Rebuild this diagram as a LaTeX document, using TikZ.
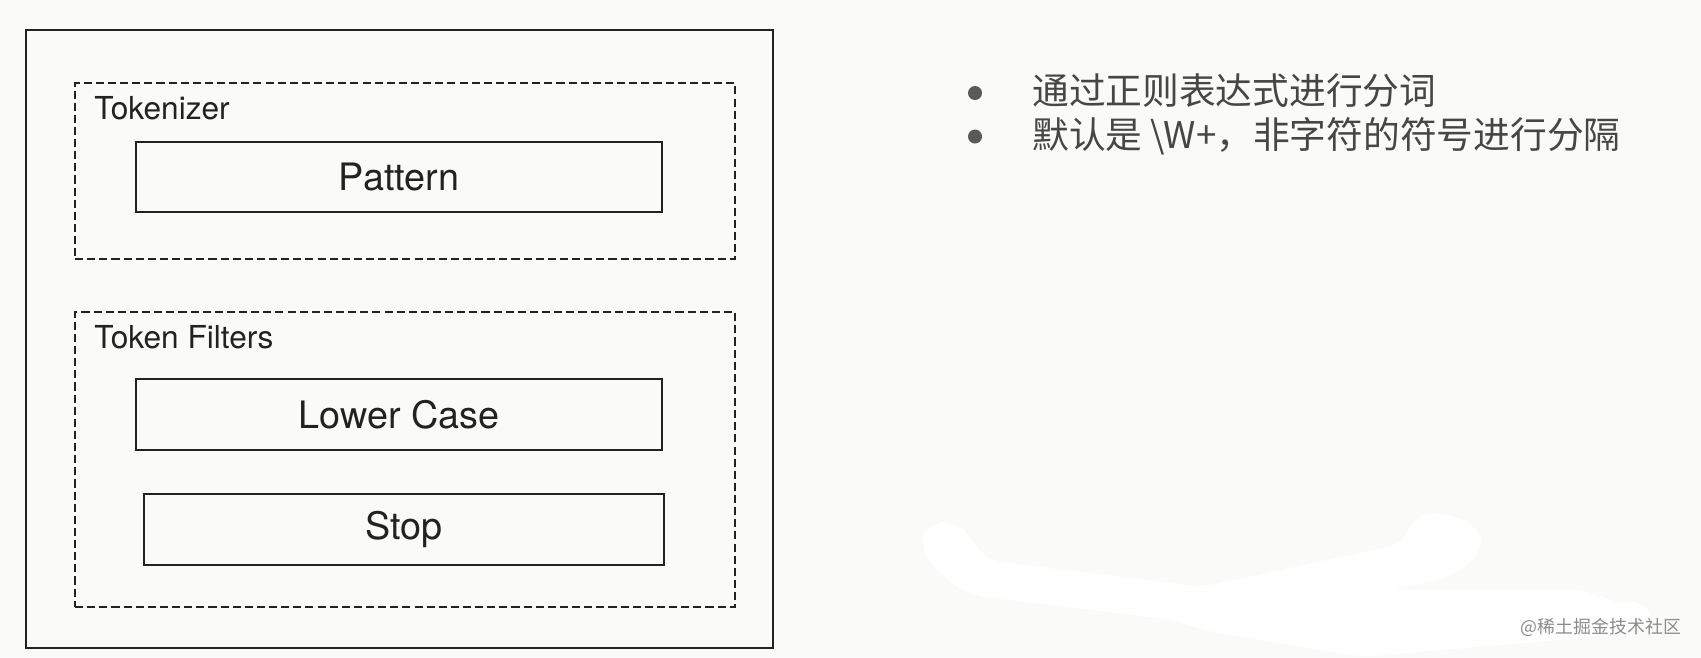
\documentclass[tikz,border=0pt]{standalone}
\usepackage{fontspec}
\setmainfont{TeX Gyre Heros}
\newfontfamily\cjkfont{Noto Sans CJK SC}
\definecolor{pagebg}{RGB}{250,250,248}
\definecolor{inkline}{RGB}{34,34,34}
\definecolor{bullettext}{RGB}{70,70,70}
\begin{document}
\begin{tikzpicture}[
        x=0.02cm, y=-0.02cm,
        outerbox/.style={rectangle, draw=inkline, line width=1.1pt, minimum width=14.94cm, minimum height=12.36cm, inner sep=0pt},
        group/.style={rectangle, draw=inkline, line width=1.0pt, dash pattern=on 4.6pt off 2.3pt, minimum width=13.2cm, inner sep=0pt},
        stage/.style={rectangle, draw=inkline, line width=1.1pt, minimum height=1.41cm, inner sep=0pt, font=\fontsize{21.5}{24}\selectfont, text=inkline},
        grouplabel/.style={anchor=base west, inner sep=0pt, font=\fontsize{18}{21}\selectfont, text=inkline},
        dot/.style={circle, fill=bullettext!90, minimum size=0.28cm, inner sep=0pt},
        item/.style={anchor=west, inner sep=0pt, font=\cjkfont\fontsize{20.9}{24}\selectfont, text=bullettext},
        watermarktext/.style={inner sep=0pt, font=\cjkfont\fontsize{10.2}{12}\selectfont, text=black!45}
    ]
        % Page
        \fill[pagebg] (0,0) rectangle (1701,657);
        \useasboundingbox (0,0) rectangle (1701,657);
        % White smear
        \fill[white, rounded corners=10pt] (932,567) -- (918,540) -- (930,522) -- (955,522) -- (970,535) -- (984,560)
            -- (1202,587) -- (1406,543) -- (1412,515) -- (1440,512) -- (1478,525) -- (1484,552) -- (1450,578) -- (1386,590)
            -- (1593,590) -- (1605,603) -- (1645,600) -- (1656,628) -- (1560,640) -- (1360,657)
            -- (1202,630) -- (1174,620) -- (967,595) -- cycle;

        % Boxes
        \node[outerbox] (analyzer) at (399.5,339) {};
        \node[group, minimum height=3.52cm] (tokenizer) at (405,171) {};
        \node[grouplabel] (tokenizerlabel) at (94,119) {Tokenizer};
        \node[stage, minimum width=10.52cm] (pattern) at (399,177) {Pattern};
        \node[group, minimum height=5.9cm] (filters) at (405,459.5) {};
        \node[grouplabel] (filterslabel) at (94,348) {Token Filters};
        \node[stage, minimum width=10.52cm] (lowercase) at (399,414.5) {Lower Case};
        \node[stage, minimum width=10.4cm] (stop) at (404,529.5) {Stop};

        % Notes
        \node[dot] (dotone) at (975,93) {};
        \node[item] (noteone) at (1032,91) {通过正则表达式进行分词};
        \node[dot] (dottwo) at (975,136.5) {};
        \node[item] (notetwo) at (1032,136) {默认是 \textbackslash W+，非字符的符号进行分隔};

        \node[watermarktext] (watermark) at (1601,627) {@稀土掘金技术社区};
    \end{tikzpicture}
\end{document}
